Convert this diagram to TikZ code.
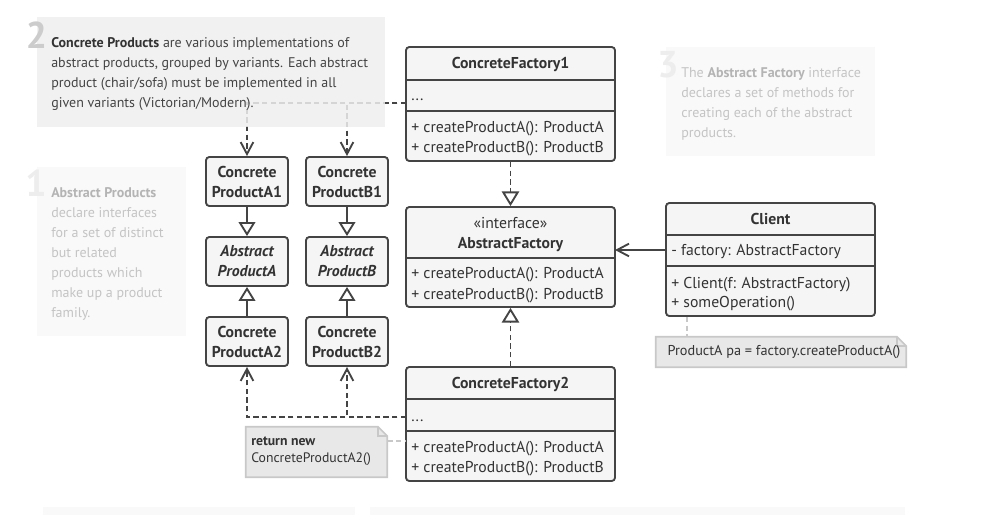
\documentclass[tikz,border=0pt]{standalone}
\usepackage{fontspec}
\setmainfont{PT Sans}
\usetikzlibrary{arrows.meta,fit,positioning}

\definecolor{ink}{HTML}{444444}
\definecolor{txt}{HTML}{333333}
\definecolor{boxfill}{HTML}{F5F5F5}
\definecolor{notefill}{HTML}{E8E8E8}
\definecolor{noteline}{HTML}{C8C8C8}
\definecolor{hintfill}{HTML}{EFEFEF}
\definecolor{fadefill}{HTML}{F9F9F9}
\definecolor{fadetxt}{HTML}{C4C4C4}
\definecolor{fadebold}{HTML}{B4B4B4}

\begin{document}
\fontsize{11.8pt}{15pt}\selectfont
\begin{tikzpicture}[x=0.75pt,y=-0.75pt,
  cls/.style={draw=ink, line width=1.4pt, fill=boxfill, rounded corners=2.5pt, inner sep=0pt},
  prod/.style={cls, minimum width=61.5pt, minimum height=36.75pt, align=center, font=\bfseries, text=txt},
  sep/.style={draw=ink, line width=1.4pt},
  hd/.style={font=\bfseries, text=txt, inner sep=0pt, yshift=-1pt},
  mth/.style={anchor=west, text=txt, inner sep=0pt, yshift=-1pt},
  real/.style={draw=ink, line width=1.4pt, dash pattern=on 4pt off 2.5pt, -{Triangle[open, length=11pt, width=13pt]}},
  inh/.style={draw=ink, line width=1.4pt, -{Triangle[open, length=10.5pt, width=12.5pt]}},
  dep/.style={draw=ink, line width=1.4pt, dash pattern=on 4pt off 2.5pt, -{Straight Barb[length=9pt, width=9.5pt]}},
  assoc/.style={draw=ink, line width=1.4pt, -{Straight Barb[length=9pt, width=9.5pt]}},
  notebox/.style={inner sep=0pt},
  notedraw/.style={draw=noteline, fill=notefill, line width=1.2pt},
  notelink/.style={draw=noteline, line width=1.2pt, dash pattern=on 4pt off 2.5pt},
  hint/.style={anchor=north west, align=left, inner sep=0pt, font=\fontsize{10.5pt}{15pt}\selectfont},
  num/.style={font=\fontsize{28pt}{28pt}\selectfont\bfseries, inner sep=0pt}]

\useasboundingbox[fill=white] (0,0) rectangle (983,515);

\node[cls, fit={(406,47) (615,161)}] (cf1) {};
\draw[sep] (406,80) -- (615,80) (406,111) -- (615,111);
\node[hd] (cf1t) at (510.5,63) {ConcreteFactory1};
\node[mth] (cf1d) at (411,98) {...};
\node[mth] (cf1a) at (411,127) {+ createProductA(): ProductA};
\node[mth] (cf1b) at (411,147) {+ createProductB(): ProductB};

\node[cls, fit={(406,207) (615,307)}] (af) {};
\draw[sep] (406,258) -- (615,258);
\node[text=txt, inner sep=0pt, yshift=-1pt] (aft) at (510.5,222) {«interface»};
\node[hd] (afn) at (510.5,243) {AbstractFactory};
\node[mth] (afa) at (411,273) {+ createProductA(): ProductA};
\node[mth] (afb) at (411,294) {+ createProductB(): ProductB};

\node[cls, fit={(406,367) (615,481)}] (cf2) {};
\draw[sep] (406,399) -- (615,399) (406,431) -- (615,431);
\node[hd] (cf2t) at (510.5,383) {ConcreteFactory2};
\node[mth] (cf2d) at (411,419) {...};
\node[mth] (cf2a) at (411,447) {+ createProductA(): ProductA};
\node[mth] (cf2b) at (411,467) {+ createProductB(): ProductB};

\node[cls, fit={(666,203) (875,316)}] (client) {};
\draw[sep] (666,235) -- (875,235) (666,266) -- (875,266);
\node[hd] (clt) at (770.5,218) {Client};
\node[mth] (clf) at (671,250) {- factory: AbstractFactory};
\node[mth] (clc) at (671,283) {+ Client(f: AbstractFactory)};
\node[mth] (clo) at (671,302) {+ someOperation()};

\node[prod] (cpa1) at (247,181.5) {Concrete\\ProductA1};
\node[prod] (cpb1) at (347,181.5) {Concrete\\ProductB1};
\node[prod, font=\bfseries\itshape] (apa) at (247,261.5) {Abstract\\ProductA};
\node[prod, font=\bfseries\itshape] (apb) at (347,261.5) {Abstract\\ProductB};
\node[prod] (cpa2) at (247,341.5) {Concrete\\ProductA2};
\node[prod] (cpb2) at (347,341.5) {Concrete\\ProductB2};

\coordinate (cf1l) at (406,103);
\coordinate (cf2l) at (406,417);
\coordinate (afr) at (615,250);

\draw[real] (cf1) -- (af);
\draw[real] (cf2) -- (af);
\draw[assoc] (client.west |- afr) -- (afr);
\draw[inh] (cpa1) -- (apa);
\draw[inh] (cpb1) -- (apb);
\draw[inh] (cpa2) -- (apa);
\draw[inh] (cpb2) -- (apb);
\draw[dep] (cf1l) -| (cpa1);
\draw[dep] (cf1l) -| (cpb1);
\draw[dep] (cf2l) -| (cpa2);
\draw[dep] (cf2l) -| (cpb2);

\node[notebox, fit={(246,427) (387,477)}] (retn) {};
\draw[notedraw] (retn.south west) -- (retn.north west) -- ([xshift=-7pt]retn.north east) -- ([yshift=-7pt]retn.north east) -- (retn.south east) -- cycle;
\draw[draw=noteline, line width=1.2pt] ([xshift=-7pt]retn.north east) -- ([xshift=-7pt, yshift=-7pt]retn.north east) -- ([yshift=-7pt]retn.north east);
\node[hint, text=txt, font=\fontsize{10.3pt}{12.75pt}\selectfont] (retnt) at (251,437) {\textbf{return new}\\ConcreteProductA2()};
\draw[notelink] (retn.east |- 0,441) -- (cf2.west |- 0,441);

\node[notebox, fit={(656,337) (906,367)}] (cln) {};
\draw[notedraw] (cln.south west) -- (cln.north west) -- ([xshift=-7pt]cln.north east) -- ([yshift=-7pt]cln.north east) -- (cln.south east) -- cycle;
\draw[draw=noteline, line width=1.2pt] ([xshift=-7pt]cln.north east) -- ([xshift=-7pt, yshift=-7pt]cln.north east) -- ([yshift=-7pt]cln.north east);
\node[text=txt, inner sep=0pt, font=\fontsize{10.7pt}{12pt}\selectfont] (clnt) at (784,352) {ProductA pa = factory.createProductA()};
\coordinate (clpin) at (687,337);
\draw[notelink] (client.south -| clpin) -- (clpin);

\node[fill=hintfill, fill opacity=0.85, inner sep=0pt, fit={(37,17) (385,127)}] (n2) {};
\node[num, text=black!20] (n2n) at (36.5,35) {2};
\node[hint, text=ink] (n2t) at (51,37) {\textbf{\color{txt}Concrete Products} are various implementations of\\abstract products, grouped by variants. Each abstract\\product (chair/sofa) must be implemented in all\\given variants (Victorian/Modern).};

\node[fill=fadefill, inner sep=0pt, fit={(37,167) (186,336)}] (n1) {};
\node[num, text=black!7] (n1n) at (36,183) {1};
\node[hint, text=fadetxt] (n1t) at (51,187) {\textbf{\color{fadebold}Abstract Products}\\declare interfaces\\for a set of distinct\\but related\\products which\\make up a product\\family.};

\node[fill=fadefill, inner sep=0pt, fit={(666,47) (875,156)}] (n3) {};
\node[num, text=black!7] (n3n) at (668,65) {3};
\node[hint, text=fadetxt] (n3t) at (681,67) {The \textbf{\color{fadebold}Abstract Factory} interface\\declares a set of methods for\\creating each of the abstract\\products.};

\node[fill=fadefill, inner sep=0pt, fit={(43,507) (355,515)}] (n4) {};
\node[fill=fadefill, inner sep=0pt, fit={(370,507) (905,515)}] (n5) {};
\end{tikzpicture}
\end{document}
